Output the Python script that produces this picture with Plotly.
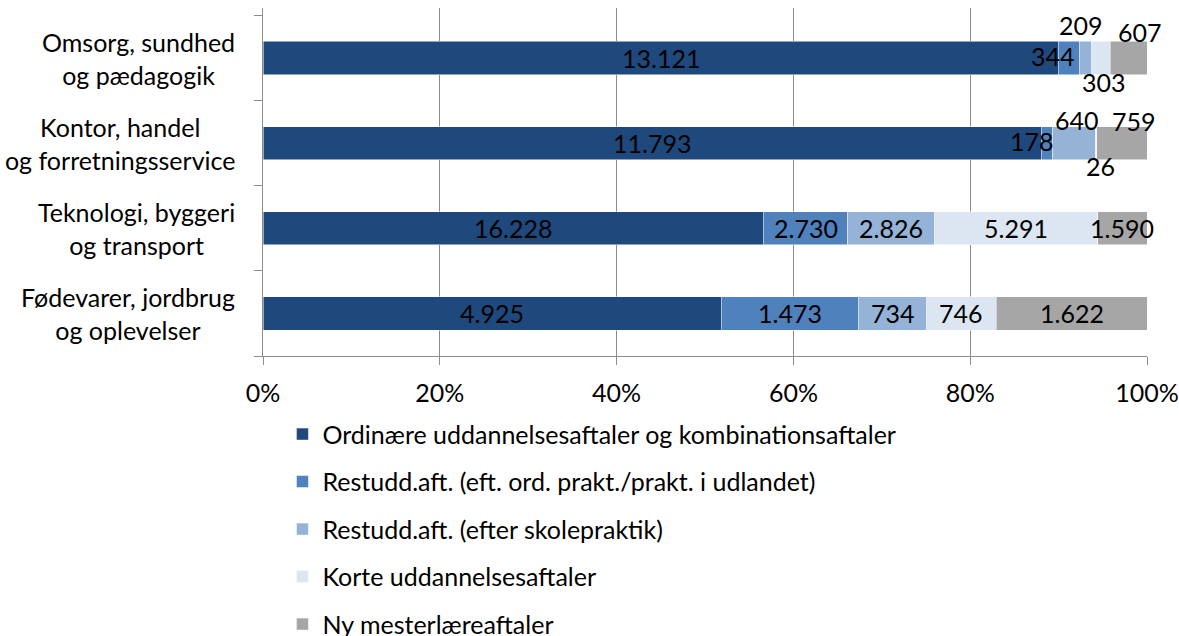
import plotly.graph_objects as go

categories = [
    "Omsorg, sundhed<br>og pædagogik",
    "Kontor, handel<br>og forretningsservice",
    "Teknologi, byggeri<br>og transport",
    "Fødevarer, jordbrug<br>og oplevelser",
]
series_names = [
    "Ordinære uddannelsesaftaler og kombinationsaftaler",
    "Restudd.aft. (eft. ord. prakt./prakt. i udlandet)",
    "Restudd.aft. (efter skolepraktik)",
    "Korte uddannelsesaftaler",
    "Ny mesterlæreaftaler",
]
ordinaere = [13121, 11793, 16228, 4925]
rest_ord = [344, 178, 2730, 1473]
rest_skole = [209, 640, 2826, 734]
korte = [303, 26, 5291, 746]
mester = [607, 759, 1590, 1622]
x_ticks = [0, 0.2, 0.4, 0.6, 0.8, 1.0]
x_tick_labels = ["0%", "20%", "40%", "60%", "80%", "100%"]

series_values = [ordinaere, rest_ord, rest_skole, korte, mester]
colors = ["#1F497D", "#4F81BD", "#95B3D7", "#DCE6F2", "#A6A6A6"]

# pixel nudges for labels of narrow segments (category index, series index) -> (dx, dy)
label_nudge = {
    (0, 1): (-16, 2), (0, 2): (-5, 33), (0, 3): (3, -24), (0, 4): (11, 26),
    (1, 1): (-15, 2), (1, 2): (3, 23), (1, 3): (4, -23), (1, 4): (12, 22),
}

FONT = "Lato"
FS = 25

fig = go.Figure()
for name, vals, col in zip(series_names, series_values, colors):
    fig.add_trace(go.Bar(
        y=categories, x=vals, name=name, orientation="h",
        marker=dict(color=col, line=dict(color="white", width=0.5)),
        legendgroup=name, hoverinfo="skip",
    ))

annotations = []
for ci, cat in enumerate(categories):
    total = sum(s[ci] for s in series_values)
    cum = 0
    for si, s in enumerate(series_values):
        v = s[ci]
        mid = (cum + v / 2) / total
        cum += v
        dx, dy = label_nudge.get((ci, si), (0, 0))
        annotations.append(dict(
            x=mid, y=cat, xref="x", yref="y", showarrow=False,
            text=f"{v:,}".replace(",", "."), xshift=dx, yshift=dy,
            font=dict(family=FONT, size=FS, color="black"),
        ))
    annotations.append(dict(
        x=-0.0294, y=cat, xref="paper", yref="y", showarrow=False,
        text=cat, xanchor="right", align="center",
        font=dict(family=FONT, size=FS, color="black"),
    ))

fig.update_layout(
    width=1179, height=636,
    barmode="stack", barnorm="fraction", bargap=0.61,
    paper_bgcolor="white", plot_bgcolor="white",
    margin=dict(l=263, r=32, t=8, b=280, autoexpand=False),
    font=dict(family=FONT, size=FS, color="black"),
    annotations=annotations,
    showlegend=True,
    legend=dict(
        orientation="v", x=0.022, xanchor="left", y=-0.159, yanchor="top",
        font=dict(family=FONT, size=FS, color="black"),
        tracegroupgap=12, traceorder="grouped", bgcolor="rgba(0,0,0,0)",
    ),
    xaxis=dict(
        range=[0, 1], tickvals=x_ticks, ticktext=x_tick_labels,
        showgrid=True, gridcolor="#8C8C8C", gridwidth=1,
        showline=True, linecolor="#8C8C8C", linewidth=1,
        ticks="outside", ticklen=8, tickcolor="#8C8C8C", ticklabelstandoff=7,
        zeroline=False, fixedrange=True, automargin=False,
    ),
    yaxis=dict(
        categoryorder="array", categoryarray=categories[::-1],
        showticklabels=False, showgrid=False,
        showline=True, linecolor="#8C8C8C", linewidth=1,
        ticks="outside", ticklen=8, tickcolor="#8C8C8C", tickson="boundaries",
        zeroline=False, fixedrange=True, automargin=False,
    ),
)

fig.write_html(
    "out.html",
    config={"displayModeBar": False, "staticPlot": True},
    post_script=(
        "document.body.style.margin='0';document.body.style.overflow='hidden';"
        "var d=document.getElementById('{plot_id}');"
        "d.style.position='absolute';d.style.left='0px';d.style.top='0px';"
    ),
)
